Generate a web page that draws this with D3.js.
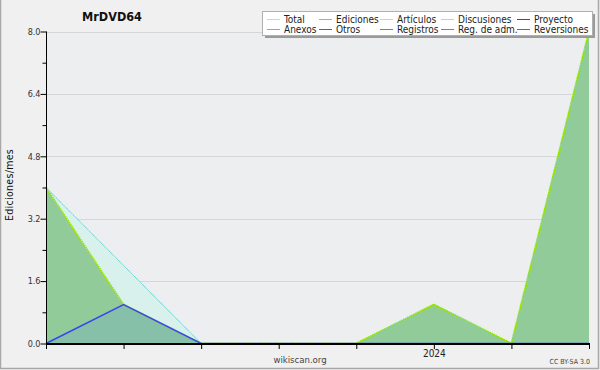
<!DOCTYPE html>
<html><head><meta charset="utf-8">
<script src="https://cdn.jsdelivr.net/npm/d3@7"></script>
<style>
html,body{margin:0;padding:0;background:#f0f0f0;}
svg{display:block;}
text{font-family:"DejaVu Sans Condensed","DejaVu Sans",sans-serif;}
</style></head>
<body><svg id="c" width="600" height="370"></svg>
<script>
const months = ["2023-08","2023-09","2023-10","2023-11","2023-12","2024-01","2024-02","2024-03"];
const monthLabels = ["","","","","","2024","",""];
const total     = [4, 2, 0, 0, 0, 1, 0, 8];
const ediciones = [4, 1, 0, 0, 0, 1, 0, 8];
const articulos = [4, 1, 0, 0, 0, 1, 0, 8];
const registros = [0, 1, 0, 0, 0, 0, 0, 0];
const yTicks = [0, 0.8, 1.6, 2.4, 3.2, 4.0, 4.8, 5.6, 6.4, 7.2, 8.0];
const yLabels = [0, 1.6, 3.2, 4.8, 6.4, 8.0];
const legendRow1 = ["Total","Ediciones","Artículos","Discusiones","Proyecto"];
const legendRow2 = ["Anexos","Otros","Registros","Reg. de adm.","Reversiones"];
const legendColors1 = ["#a8e4e0","#80c888","#c0ee50","#f0d050","#505050"];
const legendColors2 = ["#f08848","#8040d8","#6878f0","#c848e8","#e03838"];

const svg = d3.select("#c");
const L = 46, R = 589, T = 31.5, B = 343.5;
const x = d3.scaleLinear().domain([0, months.length - 1]).range([L, R]);
const y = d3.scaleLinear().domain([0, 8]).range([B, T]);

// outer frame
svg.append("rect").attr("x",0).attr("y",0).attr("width",600).attr("height",370).attr("fill","#f0f0f0");
svg.append("rect").attr("x",0.5).attr("y",-1).attr("width",598).attr("height",369.5)
  .attr("fill","none").attr("stroke","#a8a8a8").attr("stroke-width",1.5);
// plot bg
svg.append("rect").attr("x",L).attr("y",T).attr("width",R-L+1).attr("height",B-T).attr("fill","#eceef0");

// grid
svg.append("g").selectAll("line").data(yLabels.filter(d=>d>0)).join("line")
  .attr("x1",L).attr("x2",R).attr("y1",d=>Math.round(y(d))+0.5).attr("y2",d=>Math.round(y(d))+0.5)
  .attr("stroke","#d4d6d8").attr("stroke-width",1);

const idx = d3.range(months.length);
const area = vals => d3.area().x(i=>x(i)).y0(y(0)).y1(i=>y(vals[i]))(idx);
const line = vals => d3.line().x(i=>x(i)).y(i=>y(vals[i]))(idx);

svg.append("path").attr("d",area(total)).attr("fill","#d8f1ec");
svg.append("path").attr("d",area(ediciones)).attr("fill","#92cb9a");
svg.append("path").attr("d",area(registros)).attr("fill","#87c0a8");

svg.append("path").attr("d",line(total)).attr("fill","none").attr("stroke","#38c8d0").attr("stroke-width",1).attr("stroke-dasharray","1,0.6");
svg.append("path").attr("d",line(articulos)).attr("fill","none").attr("stroke","#9be600").attr("stroke-width",2).attr("stroke-dasharray","1.5,0.8");
svg.append("path").attr("d",line(registros)).attr("fill","none").attr("stroke","#3848ea").attr("stroke-width",1.5);

// axes (drawn on top of series)
const yAxis = d3.axisLeft(y).tickValues(yTicks).tickSize(4).tickFormat(d => yLabels.includes(d) ? d3.format(".1f")(d) : "");
const gy = svg.append("g").attr("transform",`translate(${L+0.5},0)`).call(yAxis);
gy.select(".domain").attr("stroke","#000").attr("d",`M0,${T}V${B+0.5}`);
gy.selectAll(".tick line").attr("stroke","#000").attr("x2", (d)=> yLabels.includes(d) ? -6 : -4);
gy.selectAll(".tick text").attr("x",-6).attr("font-size",9).attr("fill","#333")
  .attr("font-family","'DejaVu Sans Condensed','DejaVu Sans',sans-serif");

const xAxis = d3.axisBottom(x).tickValues(idx).tickSize(5).tickFormat(i=>monthLabels[i]);
const gx = svg.append("g").attr("transform",`translate(0,${B+0.5})`).call(xAxis);
gx.select(".domain").attr("stroke","#000").attr("stroke-width",2).attr("d",`M${L},0H${R+1}`);
gx.selectAll(".tick line").attr("stroke","#000");
gx.selectAll(".tick text").attr("y",6).attr("font-size",10).attr("fill","#222")
  .attr("font-family","'DejaVu Sans Condensed','DejaVu Sans',sans-serif");

// titles
svg.append("text").attr("x",112).attr("y",21).attr("text-anchor","middle").attr("font-size",12.5)
  .attr("font-weight","bold").attr("fill","#111").text("MrDVD64");
svg.append("text").attr("transform","translate(13,185) rotate(-90)").attr("text-anchor","middle")
  .attr("font-size",10.5).attr("fill","#111").attr("letter-spacing",0.3).text("Ediciones/mes");
svg.append("text").attr("x",300).attr("y",363).attr("text-anchor","middle").attr("font-size",9.5).attr("fill","#444").text("wikiscan.org");
svg.append("text").attr("x",590).attr("y",364).attr("text-anchor","end").attr("font-size",7).attr("fill","#444").text("CC BY-SA 3.0");

// legend
const lg = svg.append("g");
lg.append("rect").attr("x",265).attr("y",14).attr("width",330).attr("height",24).attr("fill","#9a9a9a");
lg.append("rect").attr("x",262.5).attr("y",11.5).attr("width",330).attr("height",24).attr("fill","#fff").attr("stroke","#b0b0b0");
const colX = [267, 319, 380, 441, 517];
[[legendRow1, legendColors1, 19.5, 22.5],[legendRow2, legendColors2, 29.5, 32.5]].forEach(([names, cols, ly, ty])=>{
  names.forEach((n,i)=>{
    lg.append("line").attr("x1",colX[i]).attr("x2",colX[i]+13).attr("y1",ly).attr("y2",ly).attr("stroke",cols[i]).attr("stroke-width",1);
    lg.append("text").attr("x",colX[i]+17).attr("y",ty).attr("font-size",10).attr("fill","#222").text(n);
  });
});
</script></body></html>
